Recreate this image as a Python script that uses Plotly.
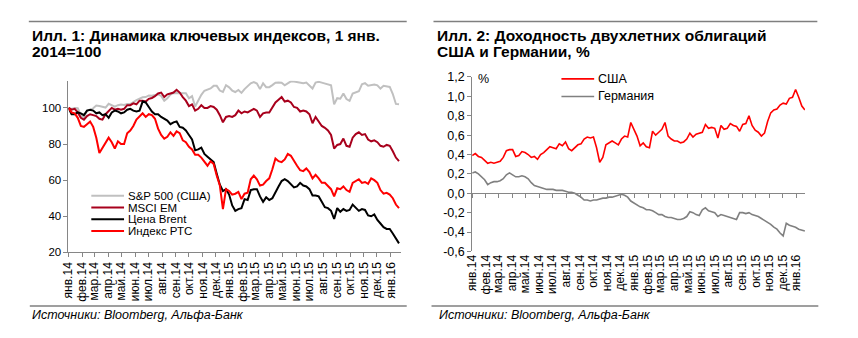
import pandas as pd
import plotly.graph_objects as go

# ---------------- data (weekly, Wednesdays from 1 Jan 2014) ----------------
start_date = "2014-01-01"

sp500 = [100, 99.4, 100, 99.8, 96.0, 94.7, 98.5, 98.9, 99.8, 101.3,
         101.1, 100.6, 100.2, 102.3, 101.3, 100.7, 101.5, 101.9, 101.6, 102.2,
         102.1, 103.3, 104.3, 105.1, 105.9, 106.0, 106.9, 106.7, 107.2, 107.5,
         106.6, 103.9, 105.3, 107.4, 108.2, 108.2, 107.9, 108.3, 108.1, 105.3,
         106.5, 100.8, 104.3, 107.2, 109.5, 110.3, 110.8, 112.2, 112.2, 109.6,
         108.8, 112.6, 111.4, 109.6, 108.8, 109.9, 108.3, 110.4, 111.9, 113.6,
         114.3, 113.5, 110.4, 113.6, 111.5, 111.5, 112.6, 113.9, 114.0, 113.9,
         112.5, 113.6, 114.7, 114.6, 114.4, 113.9, 113.6, 114.0, 112.4, 110.7,
         114.0, 114.4, 114.0, 113.6, 112.9, 112.5, 102.0, 105.4, 105.1, 108.0,
         104.9, 103.9, 107.9, 108.4, 109.2, 113.1, 113.7, 112.3, 112.7, 113.0,
         112.5, 110.7, 112.2, 111.7, 111.6, 107.7, 102.2, 102.0]

msci_em = [100, 99.0, 99.5, 97.5, 94.5, 93.5, 95.5, 96.5, 96.0, 95.5,
           94.0, 93.5, 96.5, 98.5, 100.0, 99.0, 99.5, 99.0, 99.5, 101.5,
           101.5, 102.5, 102.0, 104.0, 104.0, 103.5, 105.0, 105.5, 106.5, 108.0,
           108.5, 106.0, 107.5, 108.0, 108.5, 110.0, 108.5, 106.0, 104.0, 101.0,
           102.0, 98.5, 99.5, 101.5, 100.0, 100.0, 101.0, 100.5, 99.0, 96.0,
           92.0, 95.0, 95.5, 95.0, 96.0, 98.5, 97.0, 98.0, 97.5, 98.5,
           99.5, 98.5, 95.0, 97.0, 97.5, 97.5, 100.0, 103.0, 104.5, 106.0,
           103.5, 104.0, 103.0, 100.5, 100.0, 98.0, 98.5, 98.0, 96.5, 91.5,
           95.0, 92.5, 90.0, 89.0, 87.5, 85.0, 77.5, 79.5, 80.0, 83.0,
           79.0, 78.5, 83.5, 85.5, 86.5, 85.0, 85.5, 82.5, 81.5, 82.0,
           81.0, 79.0, 78.5, 79.5, 79.0, 76.0, 72.5, 70.5]

brent = [100, 96.5, 96.5, 97.5, 97.0, 96.0, 98.5, 99.0, 98.5, 97.0,
         97.5, 96.0, 96.5, 94.5, 97.5, 98.5, 98.0, 97.0, 97.5, 99.0,
         99.5, 98.5, 98.0, 98.5, 103.5, 103.0, 100.5, 98.0, 96.5, 96.5,
         95.0, 94.0, 93.0, 91.0, 92.0, 92.5, 89.5, 89.0, 87.5, 85.0,
         82.5, 76.5, 77.0, 78.0, 74.5, 73.0, 71.5, 70.0, 63.5, 57.5,
         54.0, 55.0, 52.0, 46.0, 43.0, 44.0, 44.5, 49.5, 49.0, 54.5,
         55.0, 55.0, 51.0, 48.0, 50.5, 49.0, 50.0, 53.5, 56.5, 59.5,
         60.5, 59.5, 58.0, 56.0, 56.5, 58.5, 57.0, 56.5, 55.0, 51.5,
         51.5, 51.0, 48.0, 45.0, 44.5, 43.0, 38.5, 44.5, 42.5, 44.0,
         43.0, 43.5, 46.5, 44.5, 43.0, 44.0, 43.5, 40.5, 40.0, 41.0,
         38.0, 36.0, 34.0, 33.0, 33.0, 30.5, 27.5, 25.0]

rts = [100, 97.5, 97.0, 94.5, 90.0, 89.5, 91.0, 92.5, 89.5, 83.5,
       75.0, 78.0, 80.5, 83.5, 81.0, 77.5, 81.5, 80.0, 80.0, 86.0,
       87.5, 90.0, 93.5, 95.0, 97.0, 95.0, 96.5, 96.0, 94.0, 88.5,
       85.0, 83.0, 84.0, 86.5, 84.5, 87.0, 86.0, 82.0, 81.0, 78.5,
       77.0, 74.0, 74.0, 72.5, 70.5, 68.0, 70.5, 69.0, 62.5, 57.0,
       44.0, 55.0, 54.0, 52.0, 52.5, 53.5, 49.5, 52.5, 53.0, 60.5,
       62.5, 60.5, 57.0, 57.5, 59.5, 61.0, 66.0, 72.0, 70.5, 70.0,
       71.5, 74.5, 73.5, 70.5, 68.0, 65.5, 65.0, 66.5, 64.5, 61.0,
       63.0, 61.0, 58.5, 58.5, 56.5, 55.0, 51.0, 55.5, 55.0, 56.5,
       54.5, 53.5, 58.5, 59.5, 60.5, 58.5, 59.0, 58.0, 61.0, 60.0,
       58.5, 54.5, 52.5, 53.0, 52.0, 50.0, 46.5, 44.5]

us_2y = [0.39, 0.41, 0.38, 0.37, 0.34, 0.31, 0.32, 0.31, 0.32, 0.33,
         0.37, 0.44, 0.45, 0.45, 0.38, 0.39, 0.43, 0.42, 0.40, 0.37,
         0.38, 0.35, 0.40, 0.42, 0.45, 0.48, 0.47, 0.46, 0.51, 0.49,
         0.53, 0.46, 0.44, 0.47, 0.50, 0.51, 0.56, 0.58, 0.57, 0.58,
         0.47, 0.32, 0.37, 0.50, 0.52, 0.54, 0.52, 0.50, 0.56, 0.59,
         0.58, 0.73, 0.66, 0.59, 0.49, 0.52, 0.48, 0.47, 0.64, 0.60,
         0.63, 0.66, 0.73, 0.59, 0.56, 0.54, 0.54, 0.52, 0.53, 0.56,
         0.62, 0.58, 0.61, 0.62, 0.63, 0.71, 0.67, 0.68, 0.67, 0.57,
         0.70, 0.66, 0.67, 0.72, 0.70, 0.69, 0.64, 0.71, 0.72, 0.80,
         0.70, 0.65, 0.63, 0.59, 0.62, 0.74, 0.83, 0.86, 0.87, 0.91,
         0.93, 0.92, 0.98, 0.99, 1.07, 0.99, 0.90, 0.86]

de_2y = [0.21, 0.22, 0.20, 0.17, 0.14, 0.09, 0.11, 0.12, 0.12, 0.13,
         0.15, 0.19, 0.21, 0.19, 0.17, 0.17, 0.18, 0.17, 0.15, 0.11,
         0.08, 0.07, 0.06, 0.05, 0.04, 0.04, 0.04, 0.03, 0.03, 0.03,
         0.02, 0.01, 0.01, 0.00, -0.02, -0.04, -0.07, -0.07, -0.08, -0.07,
         -0.07, -0.06, -0.05, -0.05, -0.04, -0.04, -0.03, -0.02, -0.01, -0.02,
         -0.04, -0.08, -0.10, -0.12, -0.14, -0.15, -0.17, -0.17, -0.18, -0.20,
         -0.22, -0.22, -0.24, -0.25, -0.25, -0.26, -0.27, -0.27, -0.26, -0.24,
         -0.19, -0.20, -0.22, -0.23, -0.17, -0.15, -0.18, -0.19, -0.20, -0.24,
         -0.22, -0.23, -0.24, -0.25, -0.26, -0.27, -0.20, -0.20, -0.21, -0.20,
         -0.22, -0.23, -0.24, -0.26, -0.28, -0.30, -0.32, -0.35, -0.37, -0.41,
         -0.44, -0.31, -0.33, -0.34, -0.35, -0.37, -0.38, -0.39]

month_labels = ["янв.14", "фев.14", "мар.14", "апр.14", "май.14", "июн.14", "июл.14",
                "авг.14", "сен.14", "окт.14", "ноя.14", "дек.14", "янв.15", "фев.15",
                "мар.15", "апр.15", "май.15", "июн.15", "июл.15", "авг.15", "сен.15",
                "окт.15", "ноя.15", "дек.15", "янв.16"]
left_yticks = [20, 40, 60, 80, 100]
right_yticks = [-0.6, -0.4, -0.2, 0.0, 0.2, 0.4, 0.6, 0.8, 1.0, 1.2]
right_ytext = ["-0,6", "-0,4", "-0,2", "0,0", "0,2", "0,4", "0,6", "0,8", "1,0", "1,2"]

left_names = ["S&P 500 (США)", "MSCI EM", "Цена Brent", "Индекс РТС"]
right_names = ["США", "Германия"]

# ---------------- styling ----------------
W, H = 858, 338
FONT = "Liberation Sans, Arial, sans-serif"
AX = "#868686"
left_colors = ["#C0C0C0", "#A8001C", "#000000", "#FF0000"]
right_colors = ["#FF0000", "#808080"]


def fx(p):
    return p / W


def fy(p):
    return 1 - p / H


def dates(n):
    return pd.date_range(start_date, periods=n, freq="7D")


tick_dates = pd.date_range("2014-01-01", "2016-01-01", freq="MS")

fig = go.Figure()
for name, vals, col in zip(left_names, [sp500, msci_em, brent, rts], left_colors):
    fig.add_trace(go.Scatter(x=dates(len(vals)), y=vals, mode="lines", name=name,
                             line=dict(color=col, width=2), xaxis="x", yaxis="y",
                             showlegend=False))
fig.add_trace(go.Scatter(x=dates(len(us_2y)), y=us_2y, mode="lines", name=right_names[0],
                         line=dict(color=right_colors[0], width=1.6), xaxis="x2", yaxis="y2",
                         showlegend=False))
fig.add_trace(go.Scatter(x=dates(len(de_2y)), y=de_2y, mode="lines", name=right_names[1],
                         line=dict(color=right_colors[1], width=1.6), xaxis="x3", yaxis="y2",
                         showlegend=False))

tickfont = dict(family=FONT, size=12, color="#000000")
common_x = dict(type="date", tickmode="array", tickvals=tick_dates, ticktext=month_labels,
                tickangle=-90, tickfont=tickfont, showgrid=False, zeroline=False)

fig.update_layout(
    width=W, height=H, autosize=False,
    margin=dict(l=0, r=0, t=0, b=0),
    paper_bgcolor="white", plot_bgcolor="white",
    font=dict(family=FONT, color="#000000"),
    xaxis=dict(**common_x, domain=[fx(62), fx(397)], range=["2014-01-01", "2016-01-24"],
               anchor="y", showline=True, linecolor=AX, linewidth=1,
               ticks="outside", ticklen=4, tickcolor=AX),
    yaxis=dict(domain=[fy(256), fy(77)], range=[20, 115], tickmode="array",
               tickvals=left_yticks, ticktext=[str(v) for v in left_yticks],
               anchor="x", showline=True, linecolor=AX, linewidth=1, ticks="outside",
               ticklen=4, tickcolor=AX, showgrid=False, zeroline=False,
               tickfont=dict(family=FONT, size=11.5, color="#000000")),
    xaxis2=dict(**common_x, domain=[fx(469), fx(804.5)], range=["2014-01-01", "2016-01-20"],
                anchor="y2", showline=False, ticks=""),
    xaxis3=dict(type="date", domain=[fx(469), fx(804.5)], range=["2014-01-01", "2016-01-20"],
                overlaying="x2", anchor="free", position=fy(194), side="bottom",
                tickmode="array", tickvals=tick_dates, showticklabels=False,
                showline=True, linecolor=AX, linewidth=1, ticks="outside", ticklen=4,
                tickcolor=AX, showgrid=False, zeroline=False),
    yaxis2=dict(domain=[fy(255), fy(73)], range=[-0.6, 1.2], tickmode="array",
                tickvals=right_yticks, ticktext=right_ytext, anchor="x2",
                showline=True, linecolor=AX, linewidth=1, ticks="outside", ticklen=4,
                tickcolor=AX, showgrid=False, zeroline=False,
                tickfont=dict(family=FONT, size=12.5, color="#000000")),
)

shapes = []
annotations = []

# header / footer rules
for x0, x1 in [(22, 403), (430, 817)]:
    shapes.append(dict(type="line", xref="paper", yref="paper", x0=fx(x0), x1=fx(x1),
                       y0=fy(15), y1=fy(15), line=dict(color="#7F7F7F", width=1.5)))
for x0, x1 in [(23, 403), (428, 818)]:
    shapes.append(dict(type="line", xref="paper", yref="paper", x0=fx(x0), x1=fx(x1),
                       y0=fy(312), y1=fy(312), line=dict(color="#7F7F7F", width=1.5)))

titles = [("Илл. 1: Динамика ключевых индексов, 1 янв.", 23, 29.5),
          ("2014=100", 23, 46.5),
          ("Илл. 2: Доходность двухлетних облигаций", 432, 29.5),
          ("США и Германии, %", 432, 46.5)]
for txt, x, y in titles:
    annotations.append(dict(text="<b>" + txt + "</b>", xref="paper", yref="paper",
                            x=fx(x), y=fy(y), xanchor="left", yanchor="middle",
                            showarrow=False, font=dict(family=FONT, size=15.5, color="#000000")))

for x in [23, 434]:
    annotations.append(dict(text="<i>Источники: Bloomberg, Альфа-Банк</i>", xref="paper",
                            yref="paper", x=fx(x), y=fy(321), xanchor="left",
                            yanchor="middle", showarrow=False,
                            font=dict(family=FONT, size=12.5, color="#000000")))

annotations.append(dict(text="%", xref="paper", yref="paper", x=fx(480), y=fy(75),
                        xanchor="center", yanchor="middle", showarrow=False,
                        font=dict(family=FONT, size=12.5, color="#000000")))

# custom legends
for i, (name, col) in enumerate(zip(left_names, left_colors)):
    yy = 197 + i * 12.2
    shapes.append(dict(type="line", xref="paper", yref="paper", x0=fx(85), x1=fx(118),
                       y0=fy(yy), y1=fy(yy), line=dict(color=col, width=2)))
    annotations.append(dict(text=name, xref="paper", yref="paper", x=fx(119.5), y=fy(yy),
                            xanchor="left", yanchor="middle", showarrow=False,
                            font=dict(family=FONT, size=11.5, color="#000000")))
for i, (name, col) in enumerate(zip(right_names, right_colors)):
    yy = 75 + i * 18.3
    shapes.append(dict(type="line", xref="paper", yref="paper", x0=fx(559), x1=fx(592),
                       y0=fy(yy), y1=fy(yy), line=dict(color=col, width=1.6)))
    annotations.append(dict(text=name, xref="paper", yref="paper", x=fx(593.5), y=fy(yy),
                            xanchor="left", yanchor="middle", showarrow=False,
                            font=dict(family=FONT, size=12.5, color="#000000")))

fig.update_layout(shapes=shapes, annotations=annotations)
fig.write_html("out.html")
